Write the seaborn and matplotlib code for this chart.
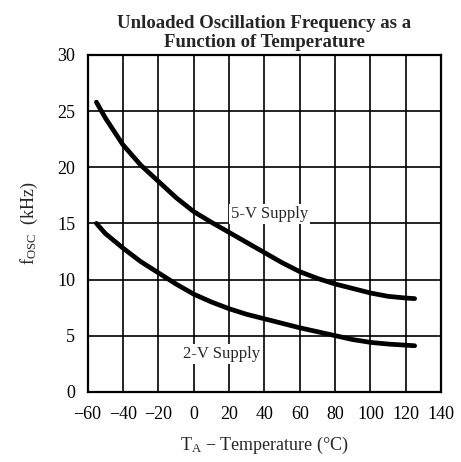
import numpy as np
import pandas as pd
import matplotlib
matplotlib.use("Agg")
import matplotlib.pyplot as plt
import seaborn as sns

# temperature points (deg C)
temp = [-55, -50, -40, -30, -20, -10, 0, 10, 20, 30, 40, 50, 60, 70, 80, 90, 100, 110, 120, 125]
f_5v = [25.8, 24.4, 22.0, 20.2, 18.75, 17.3, 16.05, 15.1, 14.2, 13.3, 12.4, 11.5,
        10.7, 10.1, 9.6, 9.2, 8.8, 8.5, 8.35, 8.3]
f_2v = [15.0, 14.1, 12.8, 11.6, 10.6, 9.6, 8.7, 8.0, 7.4, 6.9, 6.5, 6.1,
        5.7, 5.35, 5.0, 4.65, 4.4, 4.25, 4.15, 4.1]

x_ticks = [-60, -40, -20, 0, 20, 40, 60, 80, 100, 120, 140]
y_ticks = [0, 5, 10, 15, 20, 25, 30]

df = pd.DataFrame({
    "T": temp * 2,
    "f": f_5v + f_2v,
    "supply": ["5-V Supply"] * len(temp) + ["2-V Supply"] * len(temp),
})

sns.set_style("white")
plt.rcParams["font.family"] = ["Liberation Serif", "DejaVu Serif"]
plt.rcParams["mathtext.fontset"] = "custom"
plt.rcParams["mathtext.rm"] = "Liberation Serif"
plt.rcParams["mathtext.it"] = "Liberation Serif"

fig = plt.figure(figsize=(4.61, 4.62), dpi=100)
ax = fig.add_axes([0.19, 0.152, 0.767, 0.729])

sns.lineplot(data=df, x="T", y="f", units="supply", estimator=None,
             color="black", linewidth=3.4, ax=ax, legend=False)

ax.set_xlim(-60, 140)
ax.set_ylim(0, 30)
ax.set_xticks(x_ticks)
ax.set_yticks(y_ticks)
ax.set_xticklabels([str(t).replace("-", "\u2212") for t in x_ticks])
ax.grid(True, color="black", linewidth=1.2)
ax.set_axisbelow(True)
for s in ax.spines.values():
    s.set_color("black")
    s.set_linewidth(1.6)
ax.tick_params(length=0, labelsize=13, colors="black")
ax.tick_params(axis="x", pad=10)
ax.tick_params(axis="y", pad=9)

ax.text(43, 15.8, "5-V Supply", ha="center", va="center", fontsize=12, zorder=1.8,
        bbox=dict(facecolor="white", edgecolor="none", pad=1.5))
ax.text(16, 3.4, "2-V Supply", ha="center", va="center", fontsize=12, zorder=1.8,
        bbox=dict(facecolor="white", edgecolor="none", pad=1.5))

ax.set_xlabel(r"T$_{\mathrm{A}}$ $-$ Temperature (°C)", fontsize=13, labelpad=9)
ax.set_ylabel(r"f$_{\mathrm{OSC}}$  (kHz)", fontsize=13, labelpad=12)
ax.set_title("Unloaded Oscillation Frequency as a\nFunction of Temperature",
             fontsize=13.5, fontweight="bold", linespacing=1.1, pad=6)

fig.savefig("out.png", dpi=100)
